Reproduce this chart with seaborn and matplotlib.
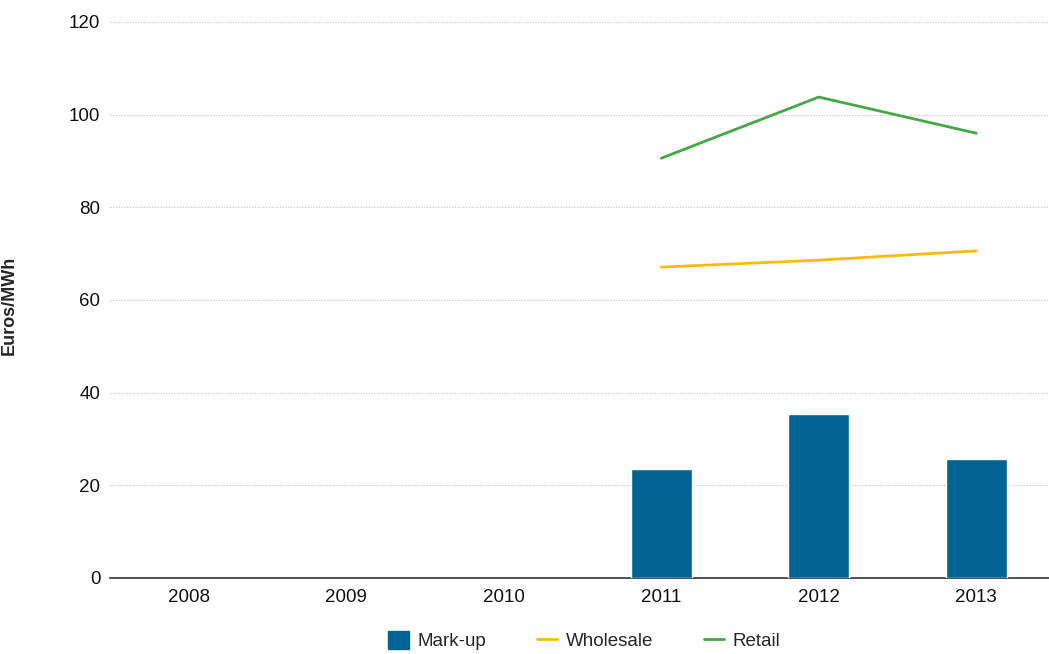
import pandas as pd
import numpy as np
import matplotlib
matplotlib.use("Agg")
import matplotlib.pyplot as plt
import matplotlib.patches as mpatches
import matplotlib.lines as mlines
import seaborn as sns

years = ['2008', '2009', '2010', '2011', '2012', '2013']
markup = [np.nan, np.nan, np.nan, 23.5, 35.4, 25.7]
wholesale = [np.nan, np.nan, np.nan, 67.1, 68.6, 70.6]
retail = [np.nan, np.nan, np.nan, 90.6, 103.8, 96.0]

df = pd.DataFrame({'Year': years, 'Mark-up': markup,
                   'Wholesale': wholesale, 'Retail': retail})

c_bar, c_whl, c_ret = '#026493', '#FDB913', '#46A844'

sns.set_style('white')
plt.rcParams['font.family'] = ['Liberation Sans', 'DejaVu Sans']

fig = plt.figure(figsize=(10.49, 6.54), dpi=100)
ax = fig.add_axes([110 / 1049, 76 / 654, 945 / 1049, 556 / 654])

sns.barplot(data=df, x='Year', y='Mark-up', color=c_bar, width=0.39,
            saturation=1, ax=ax, zorder=3)
sns.lineplot(x=np.arange(len(years)), y=df['Wholesale'], color=c_whl,
             linewidth=2, ax=ax, zorder=4)
sns.lineplot(x=np.arange(len(years)), y=df['Retail'], color=c_ret,
             linewidth=2, ax=ax, zorder=4)

ax.set_xlim(-0.5, 5.5)
ax.set_ylim(0, 120)
ax.set_yticks(range(0, 121, 20))
ax.yaxis.grid(True, linestyle=(0, (1, 1.5)), color='#c0c0c0', linewidth=0.8)
ax.set_axisbelow(True)
for s in ['top', 'right', 'left']:
    ax.spines[s].set_visible(False)
ax.spines['bottom'].set_color('#333333')
ax.spines['bottom'].set_linewidth(1.2)
ax.tick_params(axis='both', length=0, labelsize=13.5, colors='#111111', pad=8)
ax.tick_params(axis='y', pad=7)
ax.set_xlabel('')
ax.set_ylabel('Euros/MWh', fontsize=13, fontweight='bold')
ax.yaxis.set_label_coords(-92 / 945, 0.49)

handles = [mpatches.Patch(color=c_bar, label='Mark-up'),
           mlines.Line2D([], [], color=c_whl, linewidth=2, label='Wholesale'),
           mlines.Line2D([], [], color=c_ret, linewidth=2, label='Retail')]
ax.legend(handles=handles, loc='upper center', bbox_to_anchor=(0.5 + 2 / 945, -0.065),
          ncol=3, frameon=False, fontsize=13.5, columnspacing=2.7,
          handlelength=1.1, handleheight=1.1, handletextpad=0.45)

fig.savefig('out.png', dpi=100)
